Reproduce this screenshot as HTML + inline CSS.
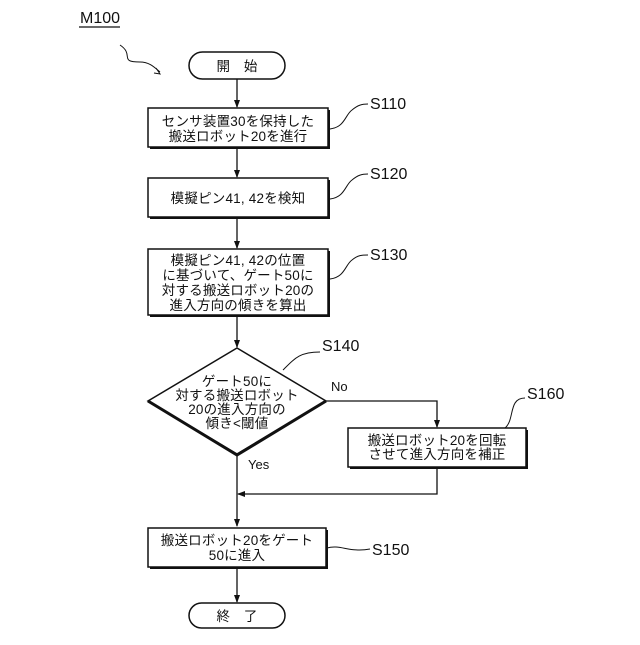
<!DOCTYPE html>
<html><head><meta charset="utf-8"><style>
html,body{margin:0;padding:0;background:#fff;}
svg text{font-family:"Liberation Sans","Noto Sans CJK JP",sans-serif;fill:#111;}
.t{font-size:13.5px;text-anchor:middle;letter-spacing:0.2px;}
.l{font-size:16px;}
</style></head><body>
<svg width="640" height="640" viewBox="0 0 640 640" xmlns="http://www.w3.org/2000/svg">
<defs><marker id="a" markerWidth="8" markerHeight="8" refX="7" refY="4" orient="auto" markerUnits="userSpaceOnUse"><path d="M0,1 L8,4 L0,7 z" fill="#111"/></marker></defs>
<g stroke="#111" fill="none" stroke-width="1.3">
<line x1="237" y1="79" x2="237" y2="107" marker-end="url(#a)"/>
<line x1="237" y1="149" x2="237" y2="177" marker-end="url(#a)"/>
<line x1="237" y1="219" x2="237" y2="248" marker-end="url(#a)"/>
<line x1="237" y1="317" x2="237" y2="347" marker-end="url(#a)"/>
<polyline points="326,401 437,401 437,427" marker-end="url(#a)"/>
<polyline points="437,468 437,494 238,494" marker-end="url(#a)"/>
<line x1="237" y1="455" x2="237" y2="526" marker-end="url(#a)"/>
<line x1="237" y1="569" x2="237" y2="602" marker-end="url(#a)"/>
<path d="M120,45 C135,55 118,62 140,62 C150,62 155,68 160,72" stroke-width="1"/>
<path d="M330,129 C345,127 345,115 352,110 C358,105 362,104 368,104" stroke-width="1"/>
<path d="M330,199 C345,197 345,185 352,180 C358,175 362,174 368,174" stroke-width="1"/>
<path d="M330,279 C345,277 345,265 352,260 C358,255 362,255 368,255" stroke-width="1"/>
<path d="M283,370 C295,358 300,352 320,352" stroke-width="1"/>
<path d="M505,428 C515,420 508,398 525,398" stroke-width="1"/>
<path d="M327,548 C340,544 350,553 370,549" stroke-width="1"/>
</g>
<path d="M156,68 L160,74 L154,73" fill="none" stroke="#111" stroke-width="1"/>
<rect x="189" y="52" width="96" height="27" rx="13.5" fill="#fff" stroke="#111" stroke-width="1.5"/>
<text class="t" x="237" y="71">開　始</text>
<rect x="189" y="603" width="96" height="25" rx="12.5" fill="#fff" stroke="#111" stroke-width="1.5"/>
<text class="t" x="237" y="621">終　了</text>
<g fill="#fff" stroke="#111" stroke-width="1.5">
<rect x="150" y="110" width="180" height="39" fill="#111" stroke="none"/>
<rect x="148" y="108" width="180" height="39"/>
<rect x="150" y="180" width="180" height="39" fill="#111" stroke="none"/>
<rect x="148" y="178" width="180" height="39"/>
<rect x="150" y="251" width="180" height="66" fill="#111" stroke="none"/>
<rect x="148" y="249" width="180" height="66"/>
<rect x="350" y="430" width="178" height="39" fill="#111" stroke="none"/>
<rect x="348" y="428" width="178" height="39"/>
<rect x="150" y="530" width="178" height="39" fill="#111" stroke="none"/>
<rect x="148" y="528" width="178" height="39"/>
</g>
<polygon points="237,348 326,401 237,454 148,401" fill="#fff" stroke="#111" stroke-width="1.5"/>
<polyline points="148,401 237,455 326,401" fill="none" stroke="#111" stroke-width="3"/>
<text class="t" x="238" y="126">センサ装置30を保持した</text>
<text class="t" x="238" y="141">搬送ロボット20を進行</text>
<text class="t" x="238" y="203">模擬ピン41, 42を検知</text>
<text class="t" x="238" y="265">模擬ピン41, 42の位置</text>
<text class="t" x="238" y="280">に基づいて、ゲート50に</text>
<text class="t" x="238" y="295">対する搬送ロボット20の</text>
<text class="t" x="238" y="310">進入方向の傾きを算出</text>
<text class="t" x="237" y="386">ゲート50に</text>
<text class="t" x="237" y="400">対する搬送ロボット</text>
<text class="t" x="237" y="414">20の進入方向の</text>
<text class="t" x="237" y="428">傾き&lt;閾値</text>
<text class="t" x="437" y="445">搬送ロボット20を回転</text>
<text class="t" x="437" y="459">させて進入方向を補正</text>
<text class="t" x="237" y="545">搬送ロボット20をゲート</text>
<text class="t" x="237" y="560">50に進入</text>
<text x="331" y="391" style="font-size:13px">No</text>
<text x="248" y="469" style="font-size:13px">Yes</text>
<text class="l" x="80" y="23">M100</text>
<line x1="79" y1="27" x2="120" y2="27" stroke="#111" stroke-width="1.3"/>
<text class="l" x="370" y="109">S110</text>
<text class="l" x="370" y="179">S120</text>
<text class="l" x="370" y="260">S130</text>
<text class="l" x="322" y="351">S140</text>
<text class="l" x="527" y="399">S160</text>
<text class="l" x="372" y="555">S150</text>
</svg>
</body></html>
